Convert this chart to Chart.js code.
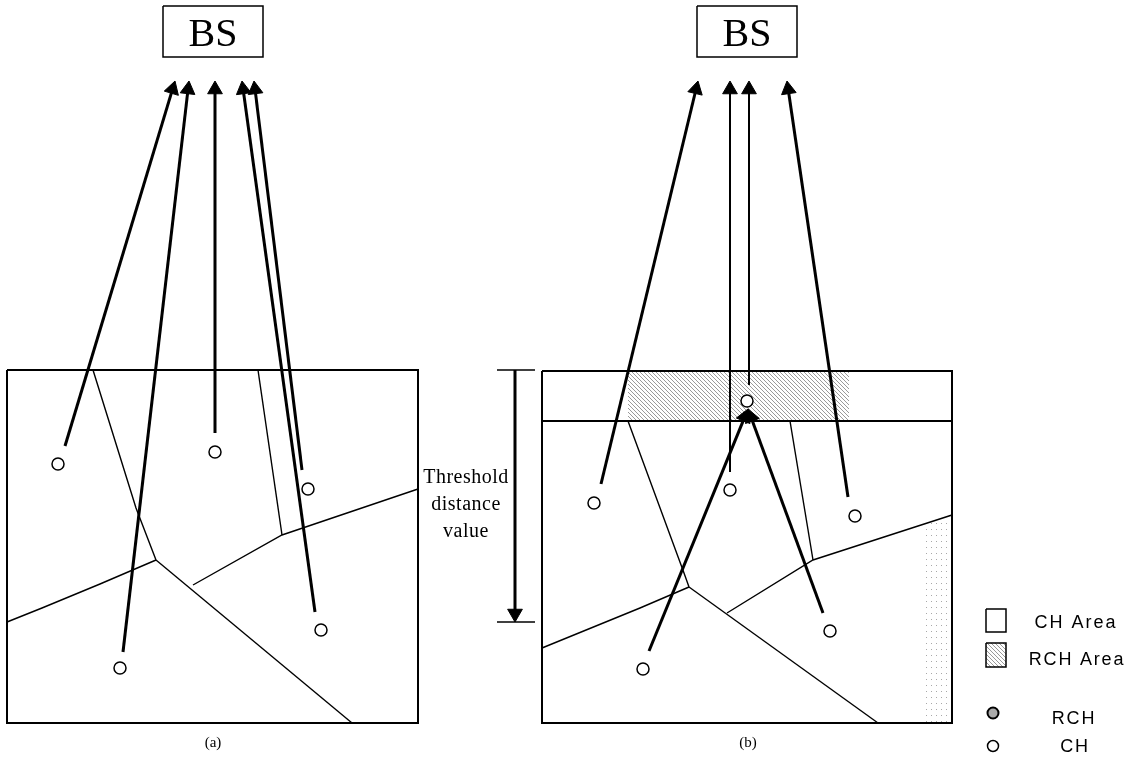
<!DOCTYPE html>
<html>
<head>
<meta charset="utf-8">
<script src="https://cdn.jsdelivr.net/npm/chart.js@4.4.0/dist/chart.umd.min.js"></script>
<style>
  html, body { margin: 0; padding: 0; background: #fff; }
  #wrap { width: 1139px; height: 779px; }
</style>
</head>
<body>
<div id="wrap"><canvas id="chart" width="1139" height="779"></canvas></div>
<script>
// everything is in page pixels, y going down
const panelA = [[7,370],[418,370],[418,723],[7,723],[7,370]];
const panelB = [[542,371],[952,371],[952,723],[542,723],[542,371]];
const bandLine = [[542,421],[952,421]];
const bsBoxA = [[163,6],[263,6],[263,57],[163,57],[163,6]];
const bsBoxB = [[697,6],[797,6],[797,57],[697,57],[697,6]];

// cell borders
const cellsA = [
  [[93,370],[136,508],[156,560]],
  [[7,622],[42,608],[100,584],[156,560]],
  [[156,560],[352,723]],
  [[193,585],[282,535],[418,489]],
  [[258,370],[282,535]]
];
const cellsB = [
  [[628,421],[684,573],[689,587]],
  [[542,648],[640,608],[689,587]],
  [[689,587],[878,723]],
  [[727,613],[813,560],[952,515]],
  [[790,421],[813,560]]
];

// cluster heads
const chA = [[58,464],[120,668],[215,452],[308,489],[321,630]];
const chB = [[594,503],[730,490],[855,516],[830,631],[643,669]];
const rchB = [[747,401]];

// arrows: tail, tip
const arrowsA = [
  [[65,446],[175,81]], [[123,652],[189,81]], [[215,433],[215,81]],
  [[302,470],[254,81]], [[315,612],[242,81]]
];
const arrowsB = [[[601,484],[698,81]], [[848,497],[787,81]]];
const arrowsBThin = [[[730,472],[730,81]], [[749,385],[749,81]]];
const relayB = [[[649,651],[748,409]], [[823,613],[748,409]]];
const threshold = [[515,370],[515,622]];
const thresholdTicks = [[[497,370],[535,370]], [[497,622],[535,622]]];

// shaded areas: top edge, filled down to a y value
const rchArea = [[628,371],[849,371]];
const rchAreaBottom = 421;
const dotArea = [[922,520],[951,520]];
const dotAreaBottom = 722;

// legend
const legendBoxes = [[[986,609],[1006,609],[1006,632],[986,632],[986,609]],
                     [[986,643],[1006,643],[1006,667],[986,667],[986,643]]];
const legendRch = [[993,713]];
const legendCh = [[993,746]];

const texts = ['BS', 'BS', 'Threshold', 'distance', 'value', '(a)', '(b)', 'CH Area', 'RCH Area', 'RCH', 'CH'];
const textPos = [[213,46],[747,46],[466,483],[466,510],[466,537],[213,747],[748,747],[1076,628],[1077,665],[1074,724],[1075,752]];
const textFont = ['40px "Liberation Serif"','40px "Liberation Serif"','20px "Liberation Serif"','20px "Liberation Serif"','20px "Liberation Serif"',
  '15px "Liberation Serif"','15px "Liberation Serif"','18px "Liberation Sans"','18px "Liberation Sans"','18px "Liberation Sans"','18px "Liberation Sans"'];
const textSpacing = [0,0,0.5,0.5,0.5,0,0,2,1.8,1.8,1.8];

const pts = a => a.map(p => ({ x: p[0], y: p[1] }));

function hatch() {
  const c = document.createElement('canvas');
  c.width = 4; c.height = 4;
  const g = c.getContext('2d');
  g.strokeStyle = '#9a9a9a';
  g.lineWidth = 1;
  g.beginPath();
  g.moveTo(-1, -1); g.lineTo(5, 5);
  g.moveTo(-1, 3); g.lineTo(1, 5);
  g.moveTo(3, -1); g.lineTo(5, 1);
  g.stroke();
  return g.createPattern(c, 'repeat');
}

function dots() {
  const c = document.createElement('canvas');
  c.width = 5; c.height = 6;
  const g = c.getContext('2d');
  g.fillStyle = '#a8a8a8';
  g.fillRect(1, 1, 1, 1);
  return g.createPattern(c, 'repeat');
}

function poly(a, w, order) {
  return { type: 'line', data: pts(a), borderColor: '#000', borderWidth: w, pointRadius: 0,
    tension: 0, fill: false, clip: false, order: order };
}

function arrow(tail, tip, w, r) {
  const dx = tip[0] - tail[0], dy = tip[1] - tail[1];
  const len = Math.hypot(dx, dy);
  const head = { x: tip[0] - dx / len * r, y: tip[1] - dy / len * r };
  const rot = Math.atan2(dx, -dy) * 180 / Math.PI;
  return { type: 'line', data: [{ x: tail[0], y: tail[1] }, head], borderColor: '#000', borderWidth: w,
    pointRadius: [0, r], pointStyle: 'triangle', pointRotation: [0, rot],
    pointBackgroundColor: '#000', pointBorderColor: '#000', pointBorderWidth: 1,
    tension: 0, fill: false, clip: false, order: 3 };
}

function nodes(a, r, bg, bw) {
  return { type: 'scatter', data: pts(a), pointRadius: r, pointStyle: 'circle',
    pointBackgroundColor: bg, pointBorderColor: '#000', pointBorderWidth: bw, showLine: false,
    clip: false, order: 1 };
}

const hatchFill = hatch();
const datasets = [];

datasets.push({ type: 'line', data: pts(rchArea), backgroundColor: hatchFill, borderWidth: 0, pointRadius: 0,
  fill: { value: rchAreaBottom }, clip: false, order: 20 });
datasets.push({ type: 'line', data: pts(dotArea), backgroundColor: dots(), borderWidth: 0, pointRadius: 0,
  fill: { value: dotAreaBottom }, clip: false, order: 20 });
datasets.push({ type: 'line', data: pts(legendBoxes[1].slice(0, 2)), backgroundColor: hatchFill, borderWidth: 0,
  pointRadius: 0, fill: { value: legendBoxes[1][2][1] }, clip: false, order: 20 });

[panelA, panelB, bandLine].forEach(a => datasets.push(poly(a, 2, 5)));
[bsBoxA, bsBoxB].forEach(a => datasets.push(poly(a, 1.5, 5)));
cellsA.concat(cellsB).forEach(a => datasets.push(poly(a, 1.4, 6)));
thresholdTicks.forEach(a => datasets.push(poly(a, 1.5, 5)));
legendBoxes.forEach(a => datasets.push(poly(a, 1.5, 5)));

arrowsA.concat(arrowsB, relayB).forEach(a => datasets.push(arrow(a[0], a[1], 3, 8.5)));
arrowsBThin.forEach(a => datasets.push(arrow(a[0], a[1], 2, 8.5)));
datasets.push(arrow(threshold[0], threshold[1], 3, 8.5));

datasets.push(nodes(chA.concat(chB, rchB), 6, '#fff', 1.5));
datasets.push(nodes(legendCh, 5.5, '#fff', 1.5));
datasets.push(nodes(legendRch, 5.5, '#aaa', 2));

const textPlugin = {
  id: 'texts',
  afterDatasetsDraw(chart) {
    const { ctx, scales: { x, y } } = chart;
    ctx.save();
    ctx.fillStyle = '#000';
    ctx.textAlign = 'center';
    ctx.textBaseline = 'alphabetic';
    texts.forEach((t, i) => {
      ctx.font = textFont[i];
      ctx.letterSpacing = textSpacing[i] + 'px';
      ctx.fillText(t, x.getPixelForValue(textPos[i][0]), y.getPixelForValue(textPos[i][1]));
    });
    ctx.restore();
  }
};

const chart = new Chart(document.getElementById('chart'), {
  type: 'scatter',
  data: { datasets: datasets },
  options: {
    responsive: false,
    animation: false,
    events: [],
    layout: { padding: 0, autoPadding: false },
    plugins: { legend: { display: false }, tooltip: { enabled: false } },
    scales: {
      x: { type: 'linear', min: 0, max: 1139, display: false },
      y: { type: 'linear', min: 0, max: 779, reverse: true, display: false }
    }
  },
  plugins: [textPlugin]
});
</script>
</body>
</html>
